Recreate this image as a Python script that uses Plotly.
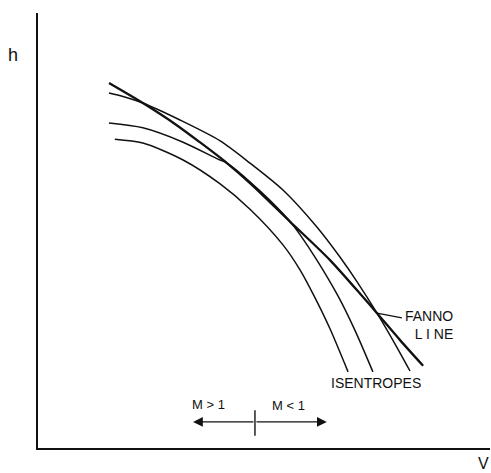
import plotly.graph_objects as go

# Fanno line and isentropes on the h–V diagram (schematic units, 0–10 on both axes)
fanno_v = [1.57, 2.32, 3.03, 3.58, 4.18, 4.69, 5.58, 6.46, 7.19, 7.50, 8.01, 8.52]
fanno_h = [8.39, 7.93, 7.45, 7.03, 6.55, 6.09, 5.20, 4.32, 3.47, 3.10, 2.48, 1.89]

isen_a_v = [1.57, 1.92, 2.32, 3.14, 4.03, 4.69, 5.42, 6.17, 6.68, 7.06, 7.50, 7.85, 8.23]
isen_a_h = [8.16, 8.07, 7.93, 7.54, 7.06, 6.55, 5.93, 5.08, 4.39, 3.82, 3.10, 2.48, 1.77]

isen_b_v = [1.57, 2.32, 3.21, 3.98, 4.18, 4.91, 5.58, 5.80, 6.17, 6.64, 7.01, 7.41]
isen_b_h = [7.47, 7.36, 7.03, 6.64, 6.55, 5.91, 5.20, 4.90, 4.32, 3.49, 2.71, 1.75]

isen_c_v = [1.70, 2.32, 3.21, 4.03, 4.69, 5.42, 5.80, 6.13, 6.46, 6.86]
isen_c_h = [7.10, 7.01, 6.62, 6.07, 5.49, 4.67, 4.09, 3.45, 2.74, 1.75]

FONT = "Liberation Sans, Arial, sans-serif"
INK = "#111111"

fig = go.Figure()

for v, h in [(isen_a_v, isen_a_h), (isen_b_v, isen_b_h), (isen_c_v, isen_c_h)]:
    fig.add_trace(go.Scatter(x=v, y=h, mode="lines",
                             line=dict(color=INK, width=1.5, shape="spline", smoothing=0.8),
                             hoverinfo="skip", showlegend=False))

fig.add_trace(go.Scatter(x=fanno_v, y=fanno_h, mode="lines",
                         line=dict(color=INK, width=2.3, shape="spline", smoothing=0.8),
                         hoverinfo="skip", showlegend=False))

annotations = [
    dict(text="h", xref="paper", yref="paper", x=-0.055, y=0.903,
         xanchor="center", yanchor="middle",
         showarrow=False, font=dict(size=18, family=FONT, color=INK)),
    dict(text="V", xref="paper", yref="paper", x=0.985, y=-0.036,
         xanchor="center", yanchor="middle",
         showarrow=False, font=dict(size=16, family=FONT, color=INK)),
    dict(text="ISENTROPES", x=7.48, y=1.49, showarrow=False,
         xanchor="center", yanchor="middle",
         font=dict(size=14, family=FONT, color=INK)),
    dict(text="FANNO<br>L I NE", x=8.08, y=2.82, xanchor="left", yanchor="middle",
         align="right", showarrow=False,
         font=dict(size=14, family=FONT, color=INK)),
    dict(text="M > 1", x=3.78, y=0.99, showarrow=False,
         xanchor="center", yanchor="middle",
         font=dict(size=13, family=FONT, color=INK)),
    dict(text="M < 1", x=5.55, y=0.97, showarrow=False,
         xanchor="center", yanchor="middle",
         font=dict(size=13, family=FONT, color=INK)),
    # direction arrows away from the sonic mark
    dict(text="", x=3.43, y=0.60, ax=4.80, ay=0.60, xref="x", yref="y",
         axref="x", ayref="y", showarrow=True, arrowhead=2, arrowsize=1.4,
         arrowwidth=1.4, arrowcolor=INK, standoff=0),
    dict(text="", x=6.39, y=0.60, ax=4.80, ay=0.60, xref="x", yref="y",
         axref="x", ayref="y", showarrow=True, arrowhead=2, arrowsize=1.4,
         arrowwidth=1.4, arrowcolor=INK, standoff=0),
]

shapes = [
    # leader from the FANNO label to the crossing point
    dict(type="line", x0=7.50, y0=3.10, x1=8.05, y1=2.99,
         line=dict(color=INK, width=1.3)),
    # sonic tick on the arrow line
    dict(type="line", x0=4.80, y0=0.87, x1=4.80, y1=0.28,
         line=dict(color=INK, width=1.4)),
]

fig.update_layout(
    width=491, height=473,
    margin=dict(l=38, r=1, t=13, b=25),
    paper_bgcolor="white", plot_bgcolor="white",
    annotations=annotations, shapes=shapes,
    xaxis=dict(range=[0, 10], showline=True, linecolor=INK, linewidth=2,
               showgrid=False, zeroline=False, showticklabels=False, ticks=""),
    yaxis=dict(range=[0, 10], showline=True, linecolor=INK, linewidth=2,
               showgrid=False, zeroline=False, showticklabels=False, ticks=""),
)

fig.write_html("out.html")
